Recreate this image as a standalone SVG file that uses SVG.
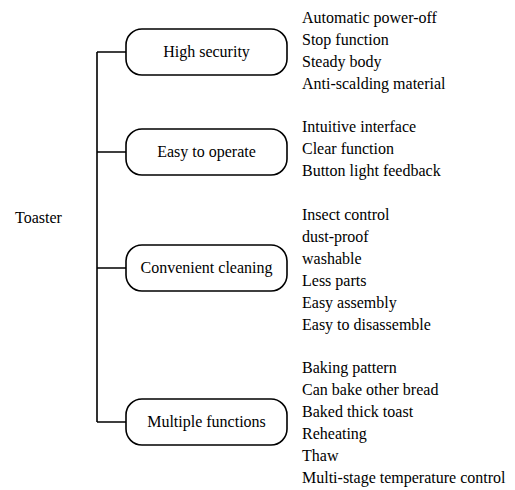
<svg xmlns="http://www.w3.org/2000/svg" width="515" height="490" viewBox="0 0 515 490">
<style>
text{font-family:"Liberation Serif","Times New Roman",serif;font-size:16px;fill:#000}
.c{text-anchor:middle}
.box{fill:#fff;stroke:#000;stroke-width:1.6}
.ln{fill:none;stroke:#000;stroke-width:1.6}
</style>
<rect width="515" height="490" fill="#fff"/>
<g id="root"><text x="15" y="223">Toaster</text></g>
<g id="connectors">
<path class="ln" d="M97,52V422M97,52H126M97,152H126M97,268H126M97,422H126"/>
</g>
<g id="n1"><rect class="box" x="126" y="29" width="161" height="46" rx="16"/><text class="c" x="206.5" y="57">High security</text></g>
<g id="n2"><rect class="box" x="126" y="129" width="161" height="46" rx="16"/><text class="c" x="206.5" y="157">Easy to operate</text></g>
<g id="n3"><rect class="box" x="126" y="245" width="161" height="46" rx="16"/><text class="c" x="206.5" y="273">Convenient cleaning</text></g>
<g id="n4"><rect class="box" x="126" y="399" width="161" height="46" rx="16"/><text class="c" x="206.5" y="427">Multiple functions</text></g>
<g id="l1"><text x="302" y="23">Automatic power-off</text><text x="302" y="45">Stop function</text><text x="302" y="67">Steady body</text><text x="302" y="89">Anti-scalding material</text></g>
<g id="l2"><text x="302" y="132">Intuitive interface</text><text x="302" y="154">Clear function</text><text x="302" y="176">Button light feedback</text></g>
<g id="l3"><text x="302" y="220">Insect control</text><text x="302" y="242">dust-proof</text><text x="302" y="264">washable</text><text x="302" y="286">Less parts</text><text x="302" y="308">Easy assembly</text><text x="302" y="330">Easy to disassemble</text></g>
<g id="l4"><text x="302" y="373">Baking pattern</text><text x="302" y="395">Can bake other bread</text><text x="302" y="417">Baked thick toast</text><text x="302" y="439">Reheating</text><text x="302" y="461">Thaw</text><text x="302" y="483">Multi-stage temperature control</text></g>
</svg>
